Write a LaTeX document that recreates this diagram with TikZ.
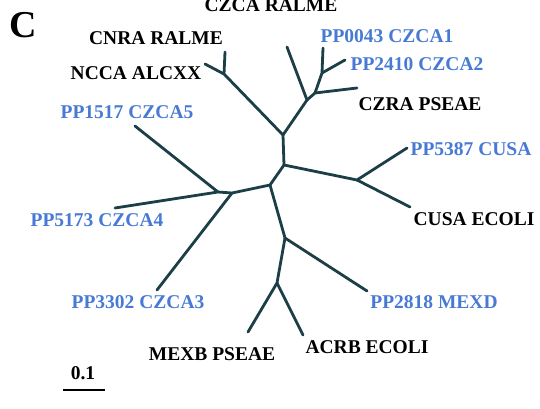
\documentclass[tikz,border=0pt]{standalone}
\usepackage{fontspec}
\setmainfont{Liberation Serif}
\definecolor{branch}{RGB}{28,62,70}
\definecolor{pblue}{RGB}{72,122,212}
\begin{document}
\begin{tikzpicture}[x=1pt,y=-1pt,
  br/.style={draw=branch,line width=2.8pt,line cap=round,line join=round},
  lab/.style={font=\fontsize{19.5}{19.5}\selectfont\bfseries,inner sep=0pt},
  blab/.style={lab,text=pblue},
  klab/.style={lab,text=black}]
\useasboundingbox (0,0) rectangle (540,409);
% junctions
\coordinate (A) at (283,135);
\coordinate (B) at (307,100);
\coordinate (C) at (315,93);
\coordinate (D) at (322,73);
\coordinate (E) at (284,165);
\coordinate (F) at (224,74);
\coordinate (G) at (357,180);
\coordinate (H) at (270,185);
\coordinate (I2) at (232,193);
\coordinate (I1) at (218,192);
\coordinate (J) at (285,238);
\coordinate (K) at (277,283);
% leaves
\coordinate (lNCCA) at (205,64);
\coordinate (lCNRA) at (225,52);
\coordinate (lCZCAR) at (287,47);
\coordinate (lPP0043) at (323,48);
\coordinate (lPP2410) at (345,60);
\coordinate (lCZRA) at (357,88);
\coordinate (lPP5387) at (407,148);
\coordinate (lCUSA) at (410,207);
\coordinate (lPP1517) at (135,126);
\coordinate (lPP5173) at (115,208);
\coordinate (lPP3302) at (157,290);
\coordinate (lPP2818) at (367,291);
\coordinate (lMEXB) at (248,332);
\coordinate (lACRB) at (303,335);
% branches
\draw[br] (lNCCA) -- (F) -- (A);
\draw[br] (lCNRA) -- (F);
\draw[br] (A) -- (B) -- (lCZCAR);
\draw[br] (B) -- (C) -- (lCZRA);
\draw[br] (C) -- (D) -- (lPP0043);
\draw[br] (D) -- (lPP2410);
\draw[br] (A) -- (E) -- (G) -- (lPP5387);
\draw[br] (G) -- (lCUSA);
\draw[br] (E) -- (H) -- (I2) -- (I1) -- (lPP5173);
\draw[br] (I1) -- (lPP1517);
\draw[br] (I2) -- (lPP3302);
\draw[br] (H) -- (J) -- (lPP2818);
\draw[br] (J) -- (K) -- (lMEXB);
\draw[br] (K) -- (lACRB);
% labels
\node[font=\fontsize{38}{38}\selectfont\bfseries,inner sep=0pt] (title) at (23,25) {C};
\node[klab] (nCZCAR) at (271,5) {CZCA RALME};
\node[klab] (nCNRA) at (156,38) {CNRA RALME};
\node[klab] (nNCCA) at (136,73) {NCCA ALCXX};
\node[blab] (nPP1517) at (127,112) {PP1517 CZCA5};
\node[blab] (nPP0043) at (387,36) {PP0043 CZCA1};
\node[blab] (nPP2410) at (417,64) {PP2410 CZCA2};
\node[klab] (nCZRA) at (420,104) {CZRA PSEAE};
\node[blab] (nPP5387) at (471,149) {PP5387 CUSA};
\node[klab] (nCUSA) at (474,219) {CUSA ECOLI};
\node[blab] (nPP5173) at (97,220) {PP5173 CZCA4};
\node[blab] (nPP3302) at (138,302) {PP3302 CZCA3};
\node[blab] (nPP2818) at (434,302) {PP2818 MEXD};
\node[klab] (nACRB) at (367,347) {ACRB ECOLI};
\node[klab] (nMEXB) at (212,354) {MEXB PSEAE};
\node[lab] (scale) at (83,373) {0.1};
\coordinate (sL) at (63,390);
\coordinate (sR) at (105,390);
\draw[line width=2pt] (sL) -- (sR);
\end{tikzpicture}
\end{document}
